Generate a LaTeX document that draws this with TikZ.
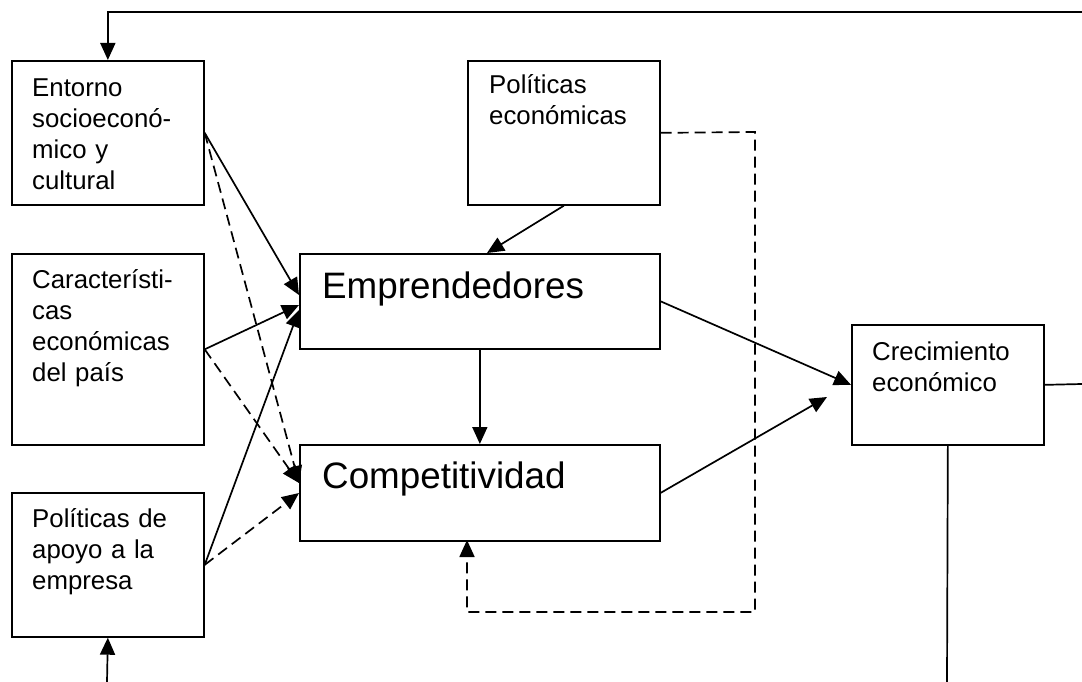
\documentclass[tikz,border=0pt]{standalone}
\usepackage{fontspec}
\setmainfont{Liberation Sans}
\usetikzlibrary{arrows.meta,calc}
\begin{document}
\begin{tikzpicture}[x=1pt,y=-1pt,
  box/.style={draw,line width=1.7pt,inner sep=0pt,anchor=north west},
  small/.style={font=\fontsize{25.8}{31}\selectfont,text width=200pt,align=left,inner sep=0pt,anchor=base west},
  big/.style={font=\fontsize{36.8}{44}\selectfont,text width=340pt,align=left,inner sep=0pt,anchor=base west},
  ln/.style={line width=1.7pt},
  arr/.style={ln,-{Triangle[length=17pt,width=15pt]}},
  darr/.style={arr,dash pattern=on 11pt off 6pt}]
\useasboundingbox (0,0) rectangle (1082,682);
% boxes
\node[box,minimum width=192pt,minimum height=144pt] (ent) at (11,60) {};
\node[box,minimum width=192pt,minimum height=191pt] (car) at (11,253) {};
\node[box,minimum width=192pt,minimum height=144pt] (apo) at (11,492) {};
\node[box,minimum width=192pt,minimum height=144pt] (pol) at (467,60) {};
\node[box,minimum width=360pt,minimum height=95pt] (emp) at (299,253) {};
\node[box,minimum width=360pt,minimum height=96pt] (comp) at (299,444) {};
\node[box,minimum width=192pt,minimum height=120pt] (crec) at (851,324) {};
% texts
\node[small] (entT) at (32,97) {Entorno\\socioeconó-\\mico y\\cultural};
\node[small] (carT) at (32,288) {Característi-\\cas\\económicas\\del país};
\node[small] (apoT) at (32,527) {Políticas de\\apoyo a la\\empresa};
\node[small] (polT) at (489,94) {Políticas\\económicas};
\node[small] (crecT) at (872,360) {Crecimiento\\económico};
\node[big] (empT) at (322,298) {Emprendedores};
\node[big] (compT) at (322,488) {Competitividad};
% coordinates
\coordinate (tr) at (1082,12);
\coordinate (rr) at (1082,384);
\coordinate (bb) at (947,682);
\coordinate (bl) at (107,682);
\coordinate (empA) at (299,295);
\coordinate (empB) at (299,305);
\coordinate (empC) at (299,310);
\coordinate (compA) at (299,483);
\coordinate (compB) at (299,493);
\coordinate (empTop) at (487,253);
\coordinate (compEnd) at (827,397);
\coordinate (d1) at (755,132);
\coordinate (d2) at (755,612);
\coordinate (d3) at (467,612);
\coordinate (compBot) at (467,540);
% connectors
\draw[arr] (tr) -| (ent.north);
\draw[ln] (crec.east) -- (rr);
\draw[ln] (crec.south) -- (bb);
\draw[arr] (bl) -- (apo.south);
\draw[arr] (ent.east) -- (empA);
\draw[darr] (ent.east) -- (compA);
\draw[arr] (car.east) -- (empB);
\draw[darr] (car.east) -- (compA);
\draw[arr] (apo.east) -- (empC);
\draw[darr] (apo.east) -- (compB);
\draw[arr] (pol.south) -- (empTop);
\draw[arr] (emp.south) -- (comp.north);
\draw[arr] (emp.east) -- (crec.west);
\draw[arr] (comp.east) -- (compEnd);
\draw[darr] (pol.east) -- (d1) -- (d2) -- (d3) -- (compBot);
\end{tikzpicture}
\end{document}
